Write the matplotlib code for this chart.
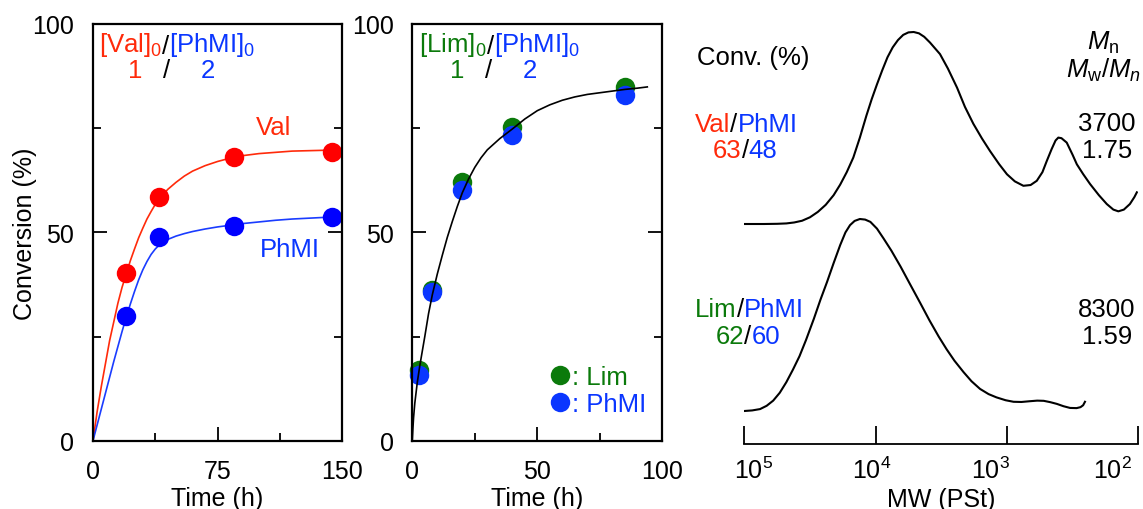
import numpy as np
import matplotlib
matplotlib.use("Agg")
import matplotlib.pyplot as plt
from matplotlib.ticker import FixedLocator, FixedFormatter
from matplotlib.transforms import ScaledTranslation

plt.rcParams['font.family'] = ['Liberation Sans', 'DejaVu Sans']
plt.rcParams['mathtext.fontset'] = 'custom'
plt.rcParams['mathtext.rm'] = 'Liberation Sans'
plt.rcParams['mathtext.it'] = 'Liberation Sans:italic'
plt.rcParams['mathtext.default'] = 'regular'

# ---------------- data ----------------
# Left panel: Val / PhMI copolymerization
val_t = [20, 40, 85, 144]
val_conv = [40.2, 58.6, 68.2, 69.4]
phmi1_t = [20, 40, 85, 144]
phmi1_conv = [30.0, 48.9, 51.5, 53.6]
# fitted curves
val_fit_t = [0, 2.5, 5, 7.5, 10, 12.5, 15, 17.5, 20, 22.5, 25, 27.5, 30, 32.5, 35, 37.5, 40,
             45, 50, 55, 60, 67.5, 75, 82.5, 90, 100, 110, 120, 130, 140, 150]
val_fit_c = [0, 7, 13, 18.5, 24, 28.5, 33, 36.8, 40, 43.2, 46, 48.7, 51, 53.2, 55, 56.7, 58,
             60.3, 62, 63.5, 64.7, 66, 67, 67.8, 68.4, 68.9, 69.2, 69.5, 69.6, 69.7, 69.8]
phmi1_fit_t = [0, 2.5, 5, 7.5, 10, 12.5, 15, 17.5, 20, 22.5, 25, 27.5, 30, 32.5, 35, 37.5, 40,
               45, 50, 55, 60, 67.5, 75, 82.5, 90, 100, 110, 120, 130, 140, 150]
phmi1_fit_c = [0, 3.8, 7.6, 11.4, 15.2, 19, 22.6, 26.2, 29.6, 32.8, 35.8, 38.6, 41, 43, 44.7, 46, 47,
               48.3, 49.1, 49.7, 50.2, 50.8, 51.3, 51.7, 52.1, 52.5, 52.9, 53.2, 53.4, 53.6, 53.7]

# Middle panel: Lim / PhMI copolymerization
lim_t = [2.8, 8.0, 19.9, 39.9, 85]
lim_conv = [17.0, 36.2, 62.2, 75.4, 85.0]
phmi2_t = [2.8, 8.0, 19.9, 39.9, 85]
phmi2_conv = [15.8, 35.6, 60.2, 73.4, 83.0]
lim_fit_t = [0, 0.25, 0.5, 1, 1.5, 2, 3, 4, 5, 6.5, 8, 10, 12, 14, 16, 18, 20, 22.5, 25, 27.5,
             30, 35, 40, 45, 50, 55, 60, 65, 70, 75, 80, 85, 90, 94]
lim_fit_c = [0, 3, 5.5, 9, 11.5, 14, 18, 21.5, 25, 30.5, 35, 40, 44.5, 48.8, 52.6, 56.2, 59.5, 62.8,
             65.6, 67.9, 69.8, 72.5, 74.8, 77.2, 79.2, 80.6, 81.7, 82.5, 83.1, 83.5, 83.9, 84.3,
             84.6, 84.9]

# Right panel: SEC traces (log10 MW, normalized intensity)
val_sec_logmw = [5.0, 4.85, 4.75, 4.68, 4.62, 4.56, 4.50, 4.44, 4.38, 4.32, 4.27, 4.22, 4.17,
                 4.12, 4.07, 4.03, 3.99, 3.95, 3.91, 3.87, 3.83, 3.79, 3.75, 3.71, 3.67, 3.63,
                 3.586, 3.51, 3.45, 3.38, 3.32, 3.256, 3.19, 3.129, 3.06, 3.0, 2.94, 2.875,
                 2.82, 2.773, 2.73, 2.697, 2.66, 2.63, 2.609, 2.585, 2.545, 2.50, 2.468, 2.42,
                 2.367, 2.30, 2.24, 2.19, 2.152, 2.11, 2.064, 2.03, 2.011]
val_sec_int = [0, 0, 0.001, 0.003, 0.008, 0.017, 0.035, 0.063, 0.10, 0.15, 0.205, 0.27, 0.346,
               0.45, 0.565, 0.65, 0.727, 0.80, 0.868, 0.92, 0.958, 0.985, 0.998, 1.0, 0.993, 0.975,
               0.945, 0.885, 0.81, 0.71, 0.61, 0.522, 0.445, 0.38, 0.312, 0.259, 0.222, 0.199,
               0.203, 0.225, 0.27, 0.328, 0.39, 0.435, 0.45, 0.447, 0.424, 0.36, 0.311, 0.26,
               0.208, 0.15, 0.104, 0.075, 0.066, 0.075, 0.104, 0.14, 0.165]
lim_sec_logmw = [5.0, 4.94, 4.88, 4.83, 4.78, 4.73, 4.68, 4.63, 4.58, 4.53, 4.47, 4.42, 4.37,
                 4.32, 4.27, 4.23, 4.195, 4.16, 4.12, 4.08, 4.04, 3.99, 3.94, 3.88, 3.81, 3.74,
                 3.66, 3.59, 3.52, 3.46, 3.40, 3.33, 3.27, 3.205, 3.14, 3.08, 3.01, 2.95, 2.89,
                 2.825, 2.77, 2.72, 2.67, 2.62, 2.57, 2.52, 2.47, 2.44, 2.42, 2.406]
lim_sec_int = [0, 0.003, 0.010, 0.027, 0.054, 0.095, 0.150, 0.215, 0.285, 0.37, 0.481, 0.58, 0.672,
               0.77, 0.864, 0.93, 0.968, 0.99, 1.0, 0.997, 0.985, 0.95, 0.899, 0.835, 0.752, 0.663,
               0.562, 0.472, 0.388, 0.322, 0.262, 0.202, 0.155, 0.115, 0.088, 0.071, 0.056, 0.048,
               0.047, 0.051, 0.054, 0.053, 0.046, 0.037, 0.025, 0.016, 0.015, 0.02, 0.03, 0.048]

xticks_left = [0, 75, 150]
xticks_mid = [0, 50, 100]
yticks = [0, 50, 100]
mw_ticks = [1e5, 1e4, 1e3, 1e2]
mw_labels = ['$10^5$', '$10^4$', '$10^3$', '$10^2$']

RED = '#ff0000'
RED_T = '#ff2a0a'
BLUE = '#0000ff'
BLUE_T = '#0a36ff'
GREEN = '#0b7a0b'
FS = 18.5
TFS = 18

fig = plt.figure(figsize=(11.43, 5.10), dpi=100)
W, H = 1143.0, 510.0


def fax(x0, x1, ytop, ybot):
    return fig.add_axes([x0 / W, 1 - ybot / H, (x1 - x0) / W, (ybot - ytop) / H])


def style_conv_axes(ax, xmax, xmaj, xminor):
    for s in ax.spines.values():
        s.set_linewidth(1.6)
    ax.set_ylim(0, 100)
    ax.set_xlim(0, xmax)
    ax.xaxis.set_major_locator(FixedLocator(xmaj))
    ax.xaxis.set_minor_locator(FixedLocator(xminor))
    ax.yaxis.set_major_locator(FixedLocator(yticks))
    ax.yaxis.set_minor_locator(FixedLocator([25, 75]))
    ax.tick_params(which='both', direction='in', labelsize=TFS, width=1.3,
                   left=True, right=True, top=False, bottom=True)
    ax.tick_params(axis='x', which='both', pad=13.3)
    ax.tick_params(axis='y', which='both', pad=13.5)
    ax.tick_params(which='major', length=10)
    ax.tick_params(which='minor', length=6)


def chain(ax, pieces, x, y, coords, fs=FS, va='center'):
    prev = None
    for txt, col in pieces:
        if prev is None:
            prev = ax.annotate(txt, xy=(x, y), xycoords=coords, color=col, fontsize=fs,
                               ha='left', va=va)
        else:
            prev = ax.annotate(txt, xy=(1, 0), xycoords=prev, color=col, fontsize=fs,
                               ha='left', va='bottom')
    return prev


# ---------------- left panel ----------------
ax1 = fax(93, 342, 25, 441.7)
style_conv_axes(ax1, 150, xticks_left, [37.5, 112.5])
ax1.plot(val_fit_t, val_fit_c, color=RED_T, lw=1.2, clip_on=False)
ax1.plot(phmi1_fit_t, phmi1_fit_c, color='#1a3cff', lw=1.2, clip_on=False)
ax1.plot(val_t, val_conv, 'o', color=RED, ms=14, mew=0, clip_on=False)
ax1.plot(phmi1_t, phmi1_conv, 'o', color=BLUE, ms=14, mew=0, clip_on=False)
ax1.set_xlabel('Time (h)', fontsize=TFS, labelpad=2)
ax1.set_ylabel('Conversion (%)', fontsize=TFS, labelpad=-3)
ax1.text(109, 75.3, 'Val', color=RED_T, fontsize=FS, ha='center', va='center')
ax1.text(118.7, 46, 'PhMI', color=BLUE_T, fontsize=FS, ha='center', va='center')
chain(ax1, [('[Val]$_0$', RED_T), ('/', 'black'), ('[PhMI]$_0$', BLUE_T)], 0.025, 0.952,
      'axes fraction')
ax1.text(0.169, 0.89, '1', color=RED_T, fontsize=FS, ha='center', va='center', transform=ax1.transAxes)
ax1.text(0.296, 0.89, '/', color='black', fontsize=FS, ha='center', va='center', transform=ax1.transAxes)
ax1.text(0.463, 0.89, '2', color=BLUE_T, fontsize=FS, ha='center', va='center', transform=ax1.transAxes)

# ---------------- middle panel ----------------
ax2 = fax(412.3, 662.3, 25, 441.7)
style_conv_axes(ax2, 100, xticks_mid, [25, 75])
ax2.plot(lim_t, lim_conv, 'o', color=GREEN, ms=14, mew=0, label=': Lim', clip_on=False)
ax2.plot(phmi2_t, phmi2_conv, 'o', color=BLUE_T, ms=14, mew=0, label=': PhMI', clip_on=False)
ax2.plot(lim_fit_t, lim_fit_c, color='black', lw=1.2)
ax2.set_xlabel('Time (h)', fontsize=TFS, labelpad=2)
chain(ax2, [('[Lim]$_0$', GREEN), ('/', 'black'), ('[PhMI]$_0$', BLUE_T)], 0.028, 0.952,
      'axes fraction')
ax2.text(0.178, 0.89, '1', color=GREEN, fontsize=FS, ha='center', va='center', transform=ax2.transAxes)
ax2.text(0.304, 0.89, '/', color='black', fontsize=FS, ha='center', va='center', transform=ax2.transAxes)
ax2.text(0.471, 0.89, '2', color=BLUE_T, fontsize=FS, ha='center', va='center', transform=ax2.transAxes)
leg = ax2.legend(loc='center left', bbox_to_anchor=(0.51, 0.12), frameon=False,
                 fontsize=FS, handlelength=0.6, handletextpad=0.15, labelspacing=0.1,
                 borderpad=0, labelcolor='markerfacecolor')

# ---------------- right panel (SEC) ----------------
ax3 = fax(744.3, 1138.3, 25, 445)
ax3.set_xscale('log')
ax3.set_xlim(1e5, 1e2)
ax3.set_ylim(0, 420 / 192.0)
off_val = 220 / 192.0
off_lim = 33 / 192.0
ax3.plot([10 ** v for v in val_sec_logmw], np.array(val_sec_int) + off_val, color='black', lw=1.5)
ax3.plot([10 ** v for v in lim_sec_logmw], np.array(lim_sec_int) + off_lim, color='black', lw=1.5)
for s in ['top', 'left', 'right']:
    ax3.spines[s].set_visible(False)
ax3.spines['bottom'].set_linewidth(1.3)
ax3.set_yticks([])
ax3.xaxis.set_major_locator(FixedLocator(mw_ticks))
ax3.xaxis.set_major_formatter(FixedFormatter(mw_labels))
ax3.xaxis.set_minor_locator(FixedLocator([]))
ax3.tick_params(axis='x', which='major', direction='in', length=13, width=1.3, top=False,
                labelsize=TFS, pad=9)
ax3.set_xlabel('MW (PSt)', fontsize=TFS, labelpad=3)
ax3.patch.set_alpha(0)
# the reference's decade labels sit slightly off their ticks
label_shift_px = [9, -4, -17, -26]
for lab, dx in zip(ax3.get_xticklabels(), label_shift_px):
    lab.set_transform(lab.get_transform() + ScaledTranslation(dx / 100.0, 0, fig.dpi_scale_trans))

# right-panel texts (figure coords)
fig.text(697 / W, 1 - 58.3 / H, 'Conv. (%)', fontsize=FS, ha='left', va='center')
chain(ax3, [('Val', RED_T), ('/', 'black'), ('PhMI', BLUE_T)], 695 / W, 1 - 125 / H, 'figure fraction')
chain(ax3, [('63', RED_T), ('/', 'black'), ('48', BLUE_T)], 713 / W, 1 - 150.7 / H, 'figure fraction')
chain(ax3, [('Lim', GREEN), ('/', 'black'), ('PhMI', BLUE_T)], 695 / W, 1 - 310 / H, 'figure fraction')
chain(ax3, [('62', GREEN), ('/', 'black'), ('60', BLUE_T)], 716 / W, 1 - 336.7 / H, 'figure fraction')
fig.text(1103 / W, 1 - 43 / H, '$\\mathit{M}_n$', fontsize=FS, ha='center', va='center')
fig.text(1066 / W, 1 - 70 / H, '$\\mathit{M}_w/\\mathit{M}_\\mathit{n}$', fontsize=FS, ha='left', va='center')
for txt, yy in [('3700', 124), ('1.75', 150.7), ('8300', 310), ('1.59', 336.7)]:
    fig.text(1106.7 / W, 1 - yy / H, txt, fontsize=FS, ha='center', va='center')

fig.savefig('out.png', dpi=100)
